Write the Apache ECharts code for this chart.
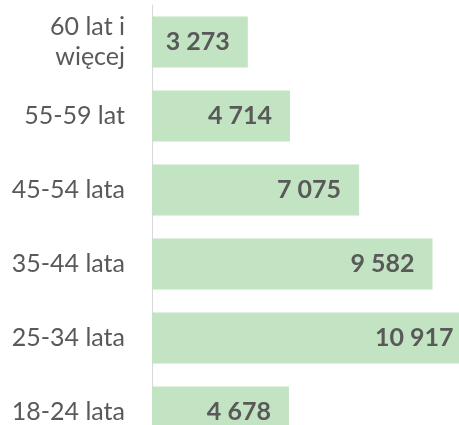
<!DOCTYPE html>
<html>
<head>
<meta charset="utf-8">
<script src="https://cdn.jsdelivr.net/npm/echarts@6/dist/echarts.min.js"></script>
<style>
html, body { margin: 0; padding: 0; background: #fff; overflow: hidden; }
/* the reference is a crop: plot runs past the right and bottom edges */
#chart { width: 480px; height: 455px; }
</style>
</head>
<body>
<div id="chart"></div>
<script>
// age groups, top to bottom
var categories = ['60 lat i\nwięcej', '55-59 lat', '45-54 lata', '35-44 lata', '25-34 lata', '18-24 lata'];
var values = [3273, 4714, 7075, 9582, 10917, 4678];

var dom = document.getElementById("chart");
var myChart = echarts.init(dom);

function fmt(v) {
    return String(v).replace(/\B(?=(\d{3})+(?!\d))/g, ' ');
}

var option = {
    animation: false,
    grid: {
        left: 152,
        width: 322,
        top: 5,
        height: 444
    },
    xAxis: {
        type: 'value',
        min: 0,
        max: 11000,
        show: false
    },
    yAxis: {
        type: 'category',
        inverse: true,
        data: categories,
        axisTick: { show: false },
        axisLine: {
            lineStyle: { color: '#d9d9d9', width: 1 }
        },
        axisLabel: {
            margin: 27,
            color: '#595959',
            fontFamily: 'Lato',
            fontSize: 25,
            lineHeight: 30
        }
    },
    series: [
        {
            type: 'bar',
            data: values,
            barCategoryGap: '31%',
            itemStyle: { color: '#c2e4c2' },
            label: {
                show: true,
                position: 'insideRight',
                distance: 18,
                color: '#595959',
                fontFamily: 'Lato',
                fontWeight: 'bold',
                fontSize: 25,
                formatter: function (p) { return fmt(p.value); }
            }
        }
    ]
};

if (option && typeof option === "object") {
    myChart.setOption(option, true);
}
</script>
</body>
</html>
